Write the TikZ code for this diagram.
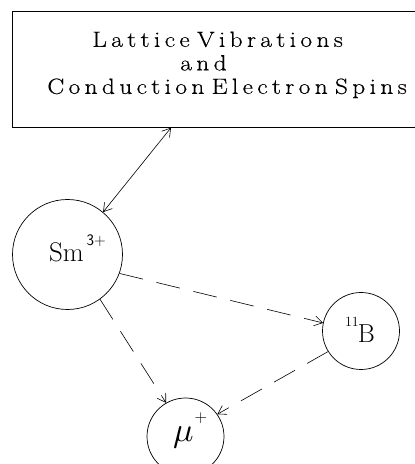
\documentclass[tikz,border=0pt]{standalone}
\usepackage{fontspec}
\usepackage{graphicx}
\usetikzlibrary{arrows.meta}
\newfontfamily\boxfont[FakeStretch=1.15,FakeBold=0.5,LetterSpace=20,WordSpace=1.4]{Latin Modern Roman}
\begin{document}
\begin{tikzpicture}[x=1pt,y=1pt,
  ion/.style={circle, draw, line width=0.7pt, inner sep=0pt, minimum size=#1},
  link/.style={line width=0.6pt, -{Straight Barb[length=8pt,width=10pt]}},
  both/.style={line width=0.6pt, {Straight Barb[length=8pt,width=10pt]}-{Straight Barb[length=8pt,width=10pt]}},
  dashlink/.style={link, dash pattern=on 24pt off 14pt}]
\useasboundingbox (0,0) rectangle (415,464);
\node[draw, line width=0.7pt, anchor=north west, minimum height=116pt,
      text width=380pt, align=left, inner xsep=35pt, inner ysep=0pt,
      text height=15pt, text depth=60pt,
      font=\boxfont\fontsize{22}{23.5}\selectfont] (lat) at (12,453)
  {\baselineskip=23.5pt\lineskiplimit=-50pt\relax\hspace*{45pt}Lattice Vibrations\\ \hspace*{133pt}and\\ Conduction Electron Spins};
\node[ion=110pt, text height=14.4pt, text depth=0pt, font=\fontsize{27}{30}\selectfont] (sm) at (67.5,209.5)
  {Sm\hspace{3pt}\raisebox{15.7pt}{\fontsize{16}{16}\selectfont\sffamily 3+}\hspace*{-20pt}};
\node[ion=77pt, text height=23.4pt, text depth=0pt, font=\fontsize{26}{30}\selectfont] (b) at (361,133)
  {\raisebox{16pt}{\fontsize{14}{14}\selectfont 11}\hspace{-1pt}B\hspace*{2pt}};
\node[ion=77pt, text height=11pt, text depth=0pt] (mu) at (185.5,27.5)
  {\scalebox{3.4}{$\mu$}\hspace{1pt}\raisebox{19pt}{\fontsize{18}{18}\selectfont$+$}\hspace*{-9pt}};
\draw[both] ([xshift=159pt]lat.south west) -- (sm.50);
\draw[dashlink] (sm.-20) -- (b.168);
\draw[dashlink] (sm.-54) -- (mu.120);
\draw[dashlink] (b.-148) -- (mu.35);
\end{tikzpicture}
\end{document}
